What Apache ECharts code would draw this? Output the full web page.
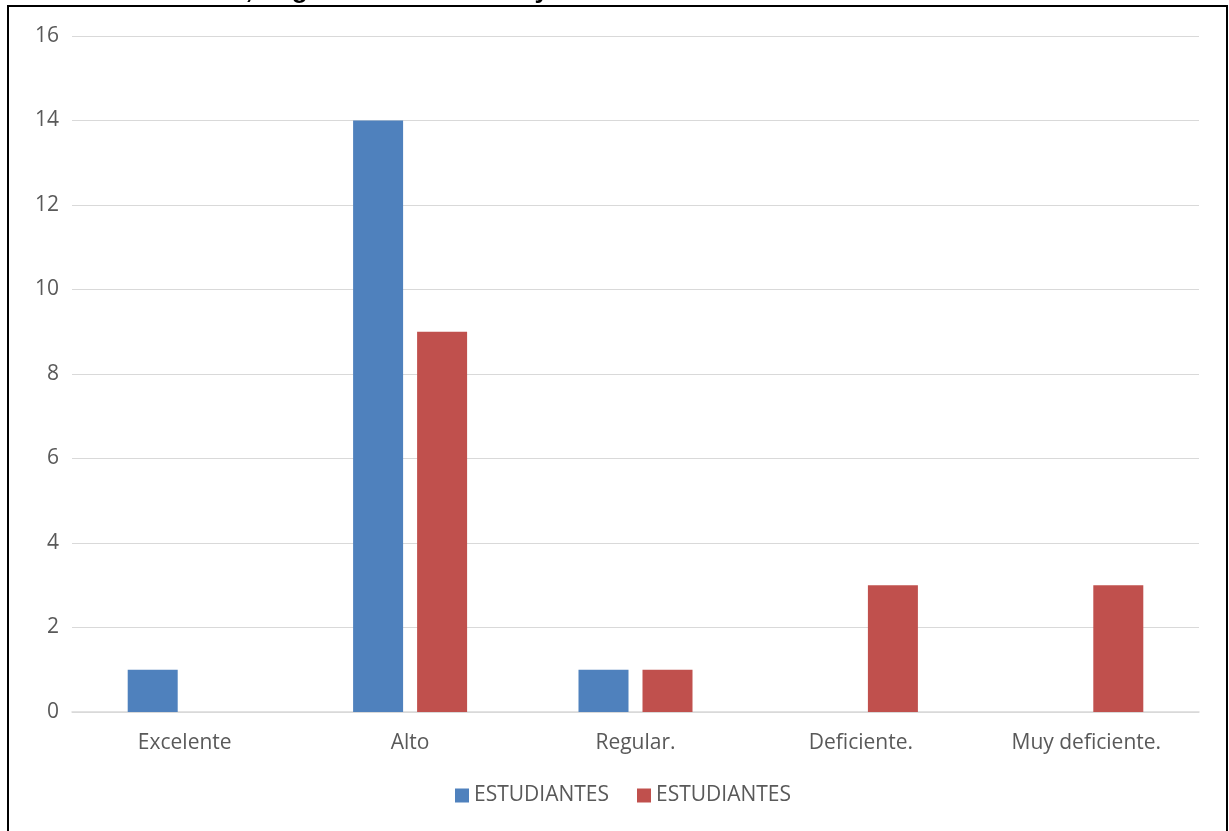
<!DOCTYPE html>
<html><head><meta charset="utf-8">
<script src="https://cdn.jsdelivr.net/npm/echarts@6/dist/echarts.min.js"></script>
<style>html,body{margin:0;padding:0;background:#fff}#c{width:1229px;height:831px}</style>
</head><body><div id="c"></div>
<script>
const categories = ['Excelente', 'Alto', 'Regular.', 'Deficiente.', 'Muy deficiente.'];
const seriesNames = ['ESTUDIANTES', 'ESTUDIANTES'];
const series1 = [1, 14, 1, 0, 0];
const series2 = [0, 9, 1, 3, 3];
const yTicks = { min: 0, max: 16, interval: 2 };
const titleText = 'Identidad, Seguridad Ciudadana y Convivencia Escolar';

const chart = echarts.init(document.getElementById('c'), null, { renderer: 'canvas' });
const labelFont = { fontFamily: 'Open Sans', fontSize: 21, color: '#595959' };
chart.setOption({
  animation: false,
  backgroundColor: '#fff',
  grid: { left: 72, right: 30, top: 36, bottom: 119, containLabel: false },
  legend: {
    bottom: 20, left: 450, itemWidth: 14, itemHeight: 14, itemGap: 28,
    icon: 'rect',
    textStyle: Object.assign({}, labelFont),
    data: [{ name: 'a' }, { name: 'b' }],
    formatter: function (n) { return n === 'a' ? seriesNames[0] : seriesNames[1]; }
  },
  xAxis: {
    type: 'category', data: categories,
    axisLine: { lineStyle: { color: '#d9d9d9', width: 1.5 } },
    axisTick: { show: false },
    axisLabel: Object.assign({ margin: 21 }, labelFont)
  },
  yAxis: {
    type: 'value', min: yTicks.min, max: yTicks.max, interval: yTicks.interval,
    axisLine: { show: false }, axisTick: { show: false },
    axisLabel: Object.assign({ margin: 13 }, labelFont),
    splitLine: { lineStyle: { color: '#d9d9d9', width: 1.2 } }
  },
  series: [
    { name: 'a', type: 'bar', data: series1, barWidth: 50, barGap: '28%', itemStyle: { color: '#4f81bd' } },
    { name: 'b', type: 'bar', data: series2, barWidth: 50, barGap: '28%', itemStyle: { color: '#c0504d' } }
  ],
  graphic: [
    { type: 'text', left: 130, top: -22, z: 10,
      style: { text: titleText, font: 'bold 26px "Liberation Sans", Arial', fill: '#000' } },
    { type: 'rect', z: 20, shape: { x: 8, y: 6, width: 1219, height: 840 },
      style: { fill: 'none', stroke: '#000', lineWidth: 2 } }
  ]
});
</script></body></html>
